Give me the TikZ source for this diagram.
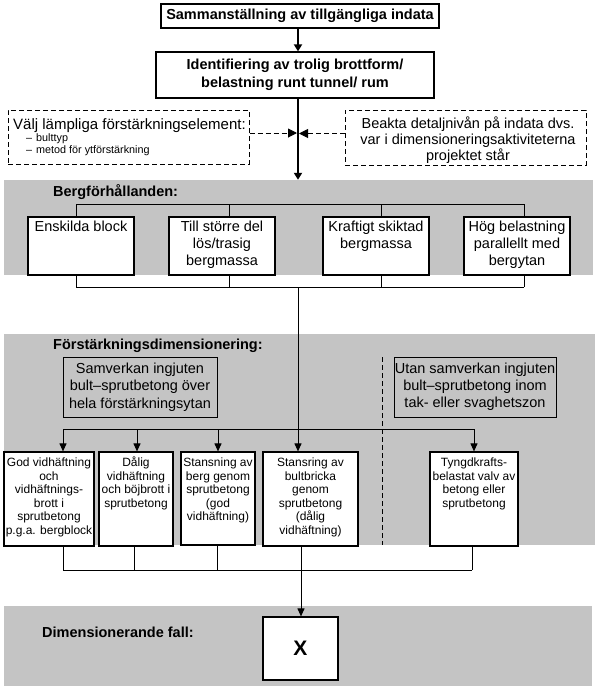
\documentclass[tikz,border=0pt]{standalone}
\usepackage{fontspec}
\setmainfont{Liberation Sans}
\usetikzlibrary{arrows.meta}
\definecolor{bandgray}{RGB}{196,196,196}
\begin{document}
\begin{tikzpicture}[x=1pt,y=-1pt,
  frame/.style={draw, line width=1.2pt, fill=white, inner sep=0pt},
  openframe/.style={draw, line width=1pt, inner sep=0pt},
  dframe/.style={draw, line width=1pt, dash pattern=on 5pt off 3pt, inner sep=0pt},
  band/.style={fill=bandgray, draw=none, inner sep=0pt},
  bigtxt/.style={font=\fontsize{14.5}{17}\selectfont, align=center, inner sep=0pt},
  smalltxt/.style={font=\fontsize{12}{13.5}\selectfont, align=center, inner sep=0pt, anchor=north},
  heading/.style={font=\bfseries\fontsize{14.5}{17}\selectfont, inner sep=0pt, anchor=base west},
  mainarrow/.style={line width=2.3pt, -{Triangle[width=8pt,length=7pt]}},
  conn/.style={line width=1pt},
  connarrow/.style={line width=1pt, -{Triangle[width=7pt,length=8pt]}},
  dasharrow/.style={line width=1pt, dash pattern=on 5pt off 3pt, -{Triangle[width=9pt,length=9pt]}},
]
\useasboundingbox (0,0) rectangle (597,689);
\fill[white] (0,0) rectangle (597,689);

% bands
\node[band, minimum width=589pt, minimum height=95pt] (berg) at (298.5,227.5) {};
\node[band, minimum width=591pt, minimum height=211pt] (forst) at (299.5,439.5) {};
\node[band, minimum width=588pt, minimum height=80pt] (dim) at (298,646) {};

% headings
\node[heading] (bergl) at (53,196) {Bergförhållanden:};
\node[heading] (forstl) at (53,349) {Förstärkningsdimensionering:};
\node[heading, anchor=west] (diml) at (42,632) {Dimensionerande fall:};

% top boxes
\node[frame, minimum width=278pt, minimum height=24pt, font=\bfseries\fontsize{14.5}{17}\selectfont] (top) at (300,16) {Sammanställning av tillgängliga indata};
\node[frame, minimum width=278pt, minimum height=46pt, font=\bfseries\fontsize{14.5}{18.3}\selectfont, align=center] (ident) at (295,75) {Identifiering av trolig brottform/\\belastning runt tunnel/ rum};

\node[dframe, fill=white, minimum width=241pt, minimum height=54pt] (ldash) at (128.5,137) {};
\node[anchor=base west, inner sep=0pt, font=\fontsize{15}{17}\selectfont] (lt1) at (13,129) {Välj lämpliga förstärkningselement:};
\node[anchor=base west, inner sep=0pt, font=\fontsize{10.8}{12}\selectfont] (lt2) at (26,141) {–\hspace{4pt}bulttyp};
\node[anchor=base west, inner sep=0pt, font=\fontsize{10.8}{12}\selectfont] (lt3) at (26,153) {–\hspace{4pt}metod för ytförstärkning};

\node[dframe, fill=white, minimum width=241pt, minimum height=55pt] (rdash) at (465.5,137.5) {};
\node[font=\fontsize{14.5}{16.2}\selectfont, align=center, inner sep=0pt, anchor=north] (rt) at (468,116.5) {\strut Beakta detaljnivån på indata dvs.\\var i dimensioneringsaktiviteterna\\projektet står};

% spine top
\coordinate (sp) at (298,0);
\draw[mainarrow] (top.south -| sp) -- (ident.north -| sp);
\draw[mainarrow] (ident.south -| sp) -- (berg.north -| sp);
\draw[dasharrow, shorten >=1pt] ([yshift=4pt]ldash.east) -- ([yshift=4pt]ldash.east -| sp);
\draw[dasharrow, shorten >=1pt] ([yshift=4pt]rdash.west) -- ([yshift=4pt]rdash.west -| sp);

% Berg boxes
\node[frame, minimum width=106pt, minimum height=58pt] (b1) at (81,246) {};
\node[frame, minimum width=106pt, minimum height=58pt] (b2) at (222,246) {};
\node[frame, minimum width=106pt, minimum height=58pt] (b3) at (376,246) {};
\node[frame, minimum width=106pt, minimum height=58pt] (b4) at (517,246) {};
\node[bigtxt, anchor=north] (b1t) at ([yshift=-3pt]b1.north) {\strut Enskilda block};
\node[bigtxt, anchor=north] (b2t) at ([yshift=-3pt]b2.north) {\strut Till större del\\lös/trasig\\bergmassa};
\node[bigtxt, anchor=north] (b3t) at ([yshift=-3pt]b3.north) {\strut Kraftigt skiktad\\bergmassa};
\node[bigtxt, anchor=north] (b4t) at ([yshift=-3pt]b4.north) {\strut Hög belastning\\parallellt med\\bergytan};

\coordinate (k1) at (76,204); \coordinate (k2) at (229,204);
\coordinate (k3) at (381,204); \coordinate (k4) at (524,204);
\draw[conn] (k1) -- (k4);
\draw[conn] (k1) -- (k1 |- b1.north);
\draw[conn] (k2) -- (k2 |- b2.north);
\draw[conn] (k3) -- (k3 |- b3.north);
\draw[conn] (k4) -- (k4 |- b4.north);

\coordinate (m1) at (76,287); \coordinate (m2) at (229,287);
\coordinate (m3) at (381,287); \coordinate (m4) at (524,287);
\coordinate (mc) at (298,287);
\draw[conn] (m1) -- (m4);
\draw[conn] (m1 |- b1.south) -- (m1);
\draw[conn] (m2 |- b2.south) -- (m2);
\draw[conn] (m3 |- b3.south) -- (m3);
\draw[conn] (m4 |- b4.south) -- (m4);

% Förstärkning
\node[openframe, minimum width=154pt, minimum height=60pt, font=\fontsize{14.5}{17.5}\selectfont, align=center] (samv) at (140,387) {Samverkan ingjuten\\bult–sprutbetong över\\hela förstärkningsytan};
\node[openframe, minimum width=162pt, minimum height=60pt, font=\fontsize{14.5}{17}\selectfont, align=center] (utan) at (475,387) {Utan samverkan ingjuten\\bult–sprutbetong inom\\tak- eller svaghetszon};
\coordinate (dv) at (382,357);
\draw[line width=0.8pt, dash pattern=on 5pt off 3pt] (dv) -- (dv |- forst.south);

% lower boxes
\node[frame, minimum width=90pt, minimum height=94pt] (d1) at (49,499) {};
\node[frame, minimum width=74pt, minimum height=94pt] (d2) at (136,499) {};
\node[frame, minimum width=74pt, minimum height=93pt] (d3) at (218,498.5) {};
\node[frame, minimum width=95pt, minimum height=94pt] (d4) at (310.5,499) {};
\node[frame, minimum width=88pt, minimum height=94pt] (d5) at (474,499) {};
\node[smalltxt] (d1t) at ([yshift=-5.5pt]d1.north) {\strut God vidhäftning\\och\\vidhäftnings-\\brott i\\sprutbetong\\p.g.a. bergblock};
\node[smalltxt] (d2t) at ([yshift=-5.5pt]d2.north) {\strut Dålig\\vidhäftning\\och böjbrott i\\sprutbetong};
\node[smalltxt] (d3t) at ([yshift=-5.5pt]d3.north) {\strut Stansning av\\berg genom\\sprutbetong\\(god\\vidhäftning)};
\node[smalltxt] (d4t) at ([yshift=-5.5pt]d4.north) {\strut Stansring av\\bultbricka\\genom\\sprutbetong\\(dålig\\vidhäftning)};
\node[smalltxt] (d5t) at ([yshift=-5.5pt]d5.north) {\strut Tyngdkrafts-\\belastat valv av\\betong eller\\sprutbetong};

\coordinate (h1) at (63,429); \coordinate (h2) at (137,429);
\coordinate (h3) at (218,429); \coordinate (h5) at (474,429);
\draw[conn] (h1) -- (h5);
\draw[connarrow] (h1) -- (h1 |- d1.north);
\draw[connarrow] (h2) -- (h2 |- d2.north);
\draw[connarrow] (h3) -- (h3 |- d3.north);
\draw[connarrow] (h5) -- (h5 |- d5.north);
\draw[connarrow] (mc) -- (mc |- d4.north);

\coordinate (n1) at (63,570); \coordinate (n2) at (134,570);
\coordinate (n3) at (217,570); \coordinate (n4) at (301,570);
\coordinate (n5) at (472,570);
\draw[conn] (n1) -- (n5);
\draw[conn] (n1 |- d1.south) -- (n1);
\draw[conn] (n2 |- d2.south) -- (n2);
\draw[conn] (n3 |- d3.south) -- (n3);
\draw[conn] (n4 |- d4.south) -- (n4);
\draw[conn] (n5 |- d5.south) -- (n5);

\node[frame, minimum width=75pt, minimum height=63pt, font=\bfseries\fontsize{21}{24}\selectfont] (xbox) at (300.5,648.5) {X};
\draw[connarrow] (n4) -- (n4 |- xbox.north);
\end{tikzpicture}
\end{document}
